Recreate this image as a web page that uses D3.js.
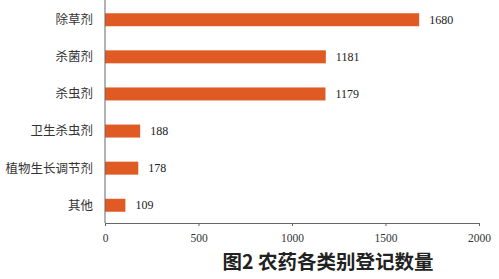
<!DOCTYPE html>
<html>
<head>
<meta charset="utf-8">
<script src="https://cdn.jsdelivr.net/npm/d3@7"></script>
<style>
  html, body { margin: 0; padding: 0; background: #fff; }
  svg { display: block; }
</style>
</head>
<body>
<div id="chart"></div>
<script>
const categories = ['除草剂', '杀菌剂', '杀虫剂', '卫生杀虫剂', '植物生长调节剂', '其他'];
const counts = [1680, 1181, 1179, 188, 178, 109];
const xTicks = [0, 500, 1000, 1500, 2000];
const title = '图2 农药各类别登记数量';

const width = 499, height = 279;
const plot = { left: 105, right: 479, top: 0, bottom: 223 };

const svg = d3.select('#chart').append('svg')
  .attr('width', width)
  .attr('height', height);

const x = d3.scaleLinear().domain([0, 2000]).range([plot.left, plot.right]);
const y = d3.scaleBand().domain(categories).range([plot.top + 1, plot.bottom + 1]).paddingInner(0.65).paddingOuter(0.33);

// bars
svg.append('g')
  .selectAll('rect')
  .data(categories)
  .join('rect')
  .attr('x', x(0))
  .attr('y', (d) => y(d))
  .attr('width', (d, i) => x(counts[i]) - x(0))
  .attr('height', y.bandwidth())
  .attr('fill', '#e05a24');

// value labels
svg.append('g')
  .selectAll('text')
  .data(categories)
  .join('text')
  .attr('x', (d, i) => x(counts[i]) + 10)
  .attr('y', (d) => y(d) + y.bandwidth() / 2)
  .attr('dy', '0.35em')
  .style('font', '12px "Liberation Serif", serif')
  .attr('fill', '#222')
  .text((d, i) => counts[i]);

// x axis
const xAxis = svg.append('g')
  .attr('transform', `translate(0,${plot.bottom})`)
  .call(d3.axisBottom(x).tickValues(xTicks).tickFormat(d3.format('d'))
    .tickSize(3).tickSizeOuter(0).tickPadding(8));
xAxis.select('.domain').attr('stroke', '#666');
xAxis.selectAll('.tick line').attr('stroke', '#666');
xAxis.selectAll('.tick text')
  .style('font', '11.5px "Liberation Serif", serif')
  .attr('fill', '#333');

// y axis line and category labels
svg.append('line')
  .attr('x1', plot.left).attr('x2', plot.left)
  .attr('y1', plot.top).attr('y2', plot.bottom)
  .attr('stroke', '#666');

svg.append('g')
  .selectAll('text')
  .data(categories)
  .join('text')
  .attr('x', 93)
  .attr('y', (d) => y(d) + y.bandwidth() / 2)
  .attr('dy', '0.35em')
  .attr('text-anchor', 'end')
  .style('font', '12.5px "Noto Sans CJK SC", sans-serif')
  .attr('fill', '#333')
  .text((d) => d);

// title
svg.append('text')
  .attr('x', 328)
  .attr('y', 262)
  .attr('dy', '0.35em')
  .attr('text-anchor', 'middle')
  .style('font', 'bold 19.5px "Noto Sans CJK SC", sans-serif')
  .attr('fill', '#222')
  .text(title);
</script>
</body>
</html>
